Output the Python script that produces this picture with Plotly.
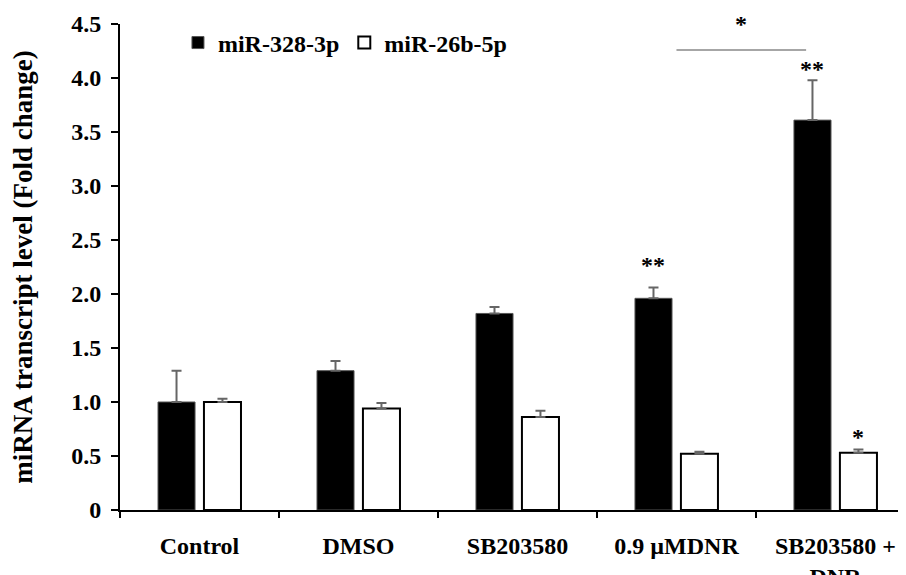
import plotly.graph_objects as go

categories = ["Control", "DMSO", "SB203580", "0.9 µMDNR", "SB203580 +<br>DNR"]
mir328 = [1.00, 1.29, 1.82, 1.96, 3.61]
mir328_err = [0.29, 0.09, 0.06, 0.10, 0.37]
mir26b = [1.00, 0.94, 0.86, 0.52, 0.53]
mir26b_err = [0.03, 0.05, 0.06, 0.02, 0.03]
y_tickvals = [0, 0.5, 1.0, 1.5, 2.0, 2.5, 3.0, 3.5, 4.0, 4.5]
y_ticktext = ["0", "0.5", "1.0", "1.5", "2.0", "2.5", "3.0", "3.5", "4.0", "4.5"]
# significance marks: (category index, series, label)
sig_marks = [(3, "mir328", "**"), (4, "mir328", "**"), (4, "mir26b", "*")]
sig_shift = [8, -4, -2]  # pixel fine-tuning of each mark (style)
bracket = {"from": 3, "to": 4, "y": 4.26, "label": "*"}

FONT = "Liberation Serif, Times New Roman, serif"
BAR_W = 0.233
OFF_A = -0.261
OFF_B = 0.028

fig = go.Figure()
fig.add_trace(go.Bar(
    name="miR-328-3p", x=categories, y=mir328, width=BAR_W, offset=OFF_A,
    marker=dict(color="black", line=dict(color="#555555", width=1)),
    error_y=dict(type="data", symmetric=False, array=mir328_err,
                 arrayminus=[0] * len(mir328_err), color="#666666", thickness=2, width=5),
))
fig.add_trace(go.Bar(
    name="miR-26b-5p", x=categories, y=mir26b, width=BAR_W, offset=OFF_B,
    marker=dict(color="white", line=dict(color="black", width=2)),
    error_y=dict(type="data", symmetric=False, array=mir26b_err,
                 arrayminus=[0] * len(mir26b_err), color="#666666", thickness=2, width=5),
))

series = {"mir328": (mir328, mir328_err, OFF_A), "mir26b": (mir26b, mir26b_err, OFF_B)}
for (idx, s, lab), sh in zip(sig_marks, sig_shift):
    vals, errs, off = series[s]
    fig.add_annotation(x=idx + off + BAR_W / 2, y=vals[idx] + errs[idx], text=lab,
                       showarrow=False, yanchor="bottom", yshift=sh,
                       font=dict(family=FONT, size=24, color="black", weight="bold"))

x_end = bracket["to"] + OFF_A + BAR_W / 2 - 0.04
fig.add_shape(type="line", xref="x", yref="y",
              x0=bracket["from"], x1=x_end,
              y0=bracket["y"], y1=bracket["y"], line=dict(color="#888888", width=1.5))
fig.add_annotation(x=(bracket["from"] + x_end) / 2,
                   y=bracket["y"], text=bracket["label"], showarrow=False,
                   yanchor="bottom", yshift=11,
                   font=dict(family=FONT, size=24, color="black", weight="bold"))

fig.update_layout(
    width=906, height=575,
    margin=dict(l=112, r=0, t=16, b=73),
    paper_bgcolor="white", plot_bgcolor="white",
    font=dict(family=FONT, size=24, color="black", weight="bold"),
    barmode="group",
    showlegend=True,
    legend=dict(orientation="h", x=0.073, y=0.961, xanchor="left", yanchor="middle",
                font=dict(family=FONT, size=24, weight="bold"), bgcolor="rgba(0,0,0,0)",
                itemwidth=30, tracegroupgap=0),
    xaxis=dict(type="category", range=[-0.5, 4.494], showline=True, linecolor="black",
               linewidth=2, ticks="outside", tickson="boundaries", ticklen=6,
               tickcolor="black", tickwidth=1.5, ticklabelstandoff=13, automargin=False,
               tickfont=dict(family=FONT, size=24, weight="bold"), showgrid=False),
    yaxis=dict(range=[0, 4.5], tickvals=y_tickvals, ticktext=y_ticktext, showline=True,
               linecolor="black", linewidth=2, ticks="outside", ticklen=7, tickcolor="black",
               tickwidth=1.5, ticklabelstandoff=5, showgrid=False, zeroline=False,
               automargin=False,
               tickfont=dict(family=FONT, size=24, weight="bold"),
               title=dict(text="miRNA transcript level (Fold change)", standoff=33,
                          font=dict(family=FONT, size=27, weight="bold"))),
)

fig.write_html("out.html")
